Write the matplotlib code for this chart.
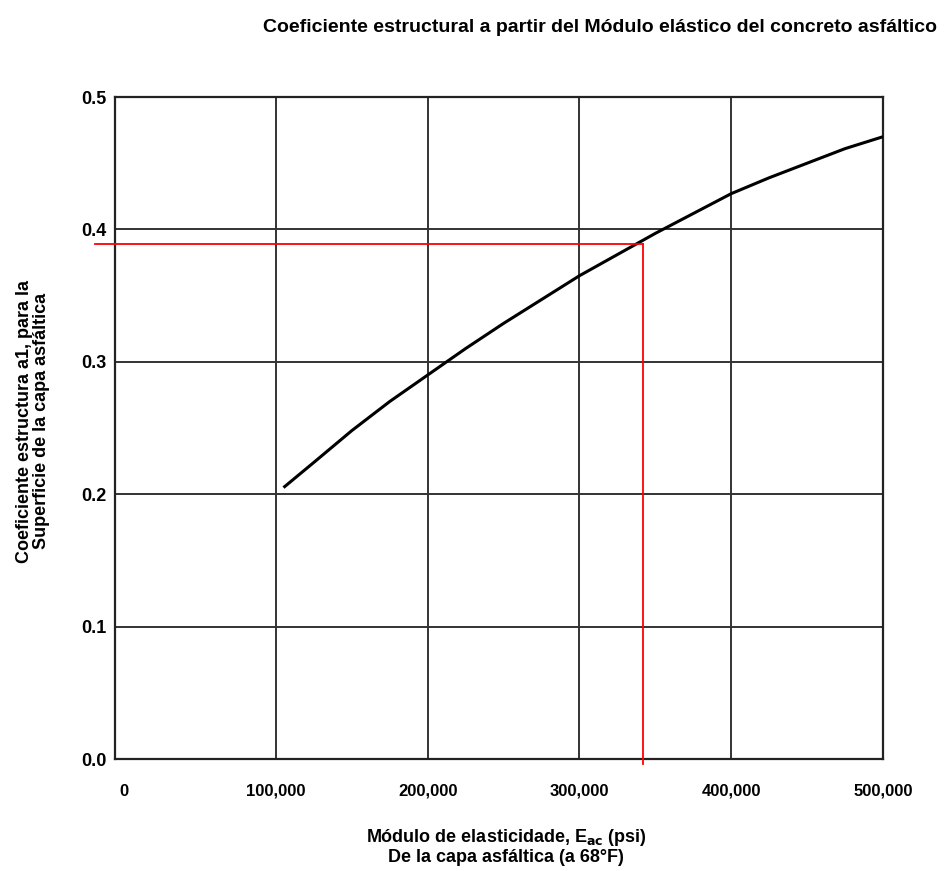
import matplotlib
matplotlib.use("Agg")
import matplotlib.pyplot as plt

# Data
modulus = [105000, 125000, 150000, 175000, 200000, 225000, 250000, 275000, 300000,
           325000, 350000, 375000, 400000, 425000, 450000, 475000, 500000]
a1 = [0.205, 0.224, 0.248, 0.270, 0.290, 0.310, 0.329, 0.347, 0.365,
      0.381, 0.397, 0.412, 0.427, 0.439, 0.450, 0.461, 0.470]
read_x = 342000
read_y = 0.389
x_ticks = [0, 100000, 200000, 300000, 400000, 500000]
x_tick_labels = ["0", "100,000", "200,000", "300,000", "400,000", "500,000"]
y_ticks = [0.0, 0.1, 0.2, 0.3, 0.4, 0.5]
y_tick_labels = ["0.0", "0.1", "0.2", "0.3", "0.4", "0.5"]

plt.rcParams['font.family'] = ['Liberation Sans', 'DejaVu Sans']

fig = plt.figure(figsize=(9.48, 8.71), dpi=100)
ax = fig.add_axes([115/948, 1-759/871, (883-115)/948, (759-97)/871])

ax.set_xlim(-6000, 500000)
ax.set_ylim(0, 0.5)
ax.set_xticks(x_ticks)
ax.set_xticklabels(x_tick_labels, fontsize=12, fontweight='bold')
ax.set_yticks(y_ticks)
ax.set_yticklabels(y_tick_labels, fontsize=13, fontweight='bold')
ax.tick_params(axis='both', length=0)
ax.tick_params(axis='x', pad=18)
ax.tick_params(axis='y', pad=6)

ax.grid(True, color='#333333', linewidth=1.4)
ax.get_xgridlines()[0].set_visible(False)
ax.get_xgridlines()[-1].set_visible(False)
ax.get_ygridlines()[0].set_visible(False)
ax.get_ygridlines()[-1].set_visible(False)
ax.set_axisbelow(True)
for s in ax.spines.values():
    s.set_linewidth(1.6)
    s.set_color('#222222')

ax.plot(modulus, a1, color='black', linewidth=2.2, solid_capstyle='butt',
        solid_joinstyle='round', zorder=3)

ax.plot([-19000, read_x], [read_y, read_y], color='red', linewidth=1.3, clip_on=False, zorder=4)
ax.plot([read_x, read_x], [-0.004, read_y], color='red', linewidth=1.3, clip_on=False, zorder=4)

fig.text(600/948, 1-27/871, "Coeficiente estructural a partir del Módulo elástico del concreto asfáltico",
         ha='center', va='center', fontsize=14, fontweight='bold')
fig.text(33/948, 1-421/871, "Coeficiente estructura a1, para la\nSuperficie de la capa asfáltica",
         ha='center', va='center', rotation=90, fontsize=13, fontweight='bold', linespacing=1.05)
fig.text(506/948, 1-837/871, r"Módulo de elasticidade, E$_{\mathbf{ac}}$ (psi)",
         ha='center', va='center', fontsize=13, fontweight='bold')
fig.text(506/948, 1-857/871, "De la capa asfáltica (a 68°F)",
         ha='center', va='center', fontsize=13, fontweight='bold')

fig.savefig("out.png", dpi=100)
